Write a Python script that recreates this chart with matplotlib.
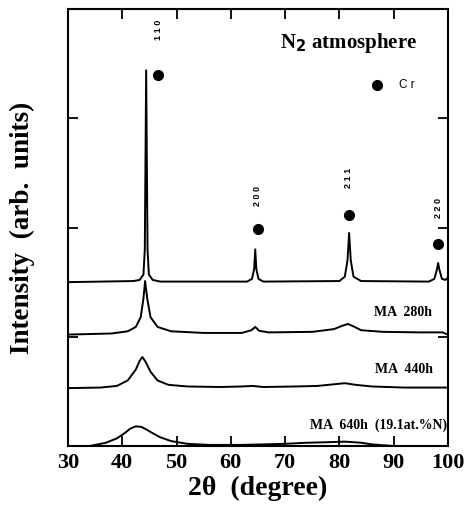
import matplotlib
matplotlib.use("Agg")
import matplotlib.pyplot as plt

# XRD patterns (2theta in degrees, offset intensity)
x_0h = [30, 42, 43.2, 43.9, 44.15, 44.4, 44.65, 44.9, 45.6, 47, 63, 63.9, 64.3, 64.5,
        64.7, 65.1, 66, 80, 81.0, 81.5, 81.8, 82.1, 82.6, 84, 96.5, 97.5, 98.0, 98.2,
        98.4, 98.9, 99.5, 100]
y_0h = [1.50, 1.51, 1.52, 1.57, 1.80, 3.44, 1.80, 1.57, 1.52, 1.505, 1.505, 1.53, 1.62, 1.80,
        1.62, 1.53, 1.505, 1.51, 1.55, 1.70, 1.95, 1.70, 1.55, 1.51, 1.505, 1.53, 1.62, 1.675,
        1.62, 1.53, 1.52, 1.54]

x_280 = [30, 38, 41, 42.5, 43.4, 43.9, 44.2, 44.6, 45.2, 46.5, 49, 55, 62, 63.8, 64.5,
         65.2, 67, 75, 79, 80.5, 81.6, 82.6, 84, 88, 95, 99, 100]
y_280 = [1.02, 1.03, 1.05, 1.09, 1.18, 1.35, 1.51, 1.35, 1.18, 1.09, 1.05, 1.035, 1.035,
         1.06, 1.09, 1.055, 1.04, 1.045, 1.07, 1.10, 1.117, 1.095, 1.06, 1.045, 1.04, 1.04, 1.02]

x_440 = [30, 36, 39, 41, 42.5, 43.2, 43.7, 44.3, 45.2, 46.5, 48.5, 52, 58, 62, 64,
         66, 72, 76, 79, 81, 83, 86, 92, 100]
y_440 = [0.53, 0.535, 0.55, 0.6, 0.7, 0.78, 0.815, 0.77, 0.68, 0.6, 0.56, 0.545, 0.54,
         0.545, 0.55, 0.54, 0.545, 0.55, 0.565, 0.575, 0.56, 0.545, 0.535, 0.535]

x_640 = [30, 34, 37, 39, 40.5, 41.5, 42.5, 43.5, 44.5, 45.5, 47, 49, 52, 56, 62,
         70, 74, 78, 81, 84, 86, 90, 100]
y_640 = [0.0, 0.0, 0.03, 0.07, 0.12, 0.16, 0.18, 0.175, 0.15, 0.12, 0.08, 0.045, 0.02,
         0.01, 0.01, 0.02, 0.03, 0.035, 0.04, 0.03, 0.015, 0.0, 0.0]

# Cr reflections: marker and label positions
hkl = ["1 1 0", "2 0 0", "2 1 1", "2 2 0"]
cr_x = [46.6, 65.0, 81.8, 98.1]
cr_y = [3.40, 1.99, 2.11, 1.85]
lab_x = [46.6, 65.0, 81.7, 98.2]
lab_y = [3.81, 2.29, 2.45, 2.18]

fig = plt.figure(figsize=(4.70, 5.07), dpi=100)
ax = fig.add_axes([0.1447, 0.1203, 0.8083, 0.8619])

for xs, ys in [(x_0h, y_0h), (x_280, y_280), (x_440, y_440), (x_640, y_640)]:
    ax.plot(xs, ys, color="black", lw=1.4)

ax.plot(cr_x, cr_y, "o", color="black", ms=7)
for t, xx, yy in zip(hkl, lab_x, lab_y):
    ax.text(xx, yy, t, rotation=90, ha="center", va="center", fontsize=6.5,
            family="Liberation Sans", fontweight="bold")

# legend-like key
ax.plot([86.9], [3.30], "o", color="black", ms=7)
ax.text(91.0, 3.30, "C r", ha="left", va="center", fontsize=8.5, family="Liberation Sans")

serif = "Liberation Serif"
ax.text(94.3, 3.69, "N$_\\mathbf{2}$ atmosphere", ha="right", va="center", fontsize=15,
        family=serif, fontweight="bold")
ax.text(97.0, 1.22, "MA  280h", ha="right", va="center", fontsize=10, family=serif, fontweight="bold")
ax.text(97.2, 0.70, "MA  440h", ha="right", va="center", fontsize=10, family=serif, fontweight="bold")
ax.text(99.8, 0.19, "MA  640h  (19.1at.%N)", ha="right", va="center", fontsize=10,
        family=serif, fontweight="bold")

ax.set_xlim(30, 100)
ax.set_ylim(0, 4)
ax.set_xticks(range(30, 101, 10))
ax.set_yticks([1, 2, 3])
ax.set_yticklabels([])
ax.tick_params(direction="in", top=True, right=True, length=7, width=1.3)
for lbl in ax.get_xticklabels():
    lbl.set_family(serif)
    lbl.set_fontweight("bold")
    lbl.set_fontsize(16)
ax.tick_params(axis="x", pad=5)
for s in ax.spines.values():
    s.set_linewidth(1.5)

ax.set_xlabel("2θ  (degree)", family=serif, fontweight="bold", fontsize=20, labelpad=2)
ax.set_ylabel("Intensity  (arb.  units)", family=serif, fontweight="bold", fontsize=19.5)
ax.yaxis.set_label_coords(-0.087, 0.5)

fig.savefig("out.png", dpi=100)
